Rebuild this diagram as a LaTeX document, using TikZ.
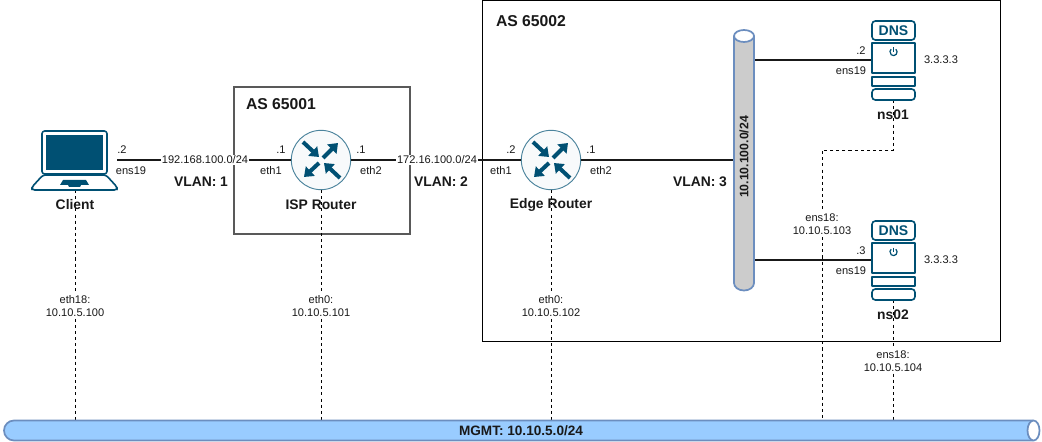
\documentclass[tikz,border=0pt]{standalone}
\usepackage{fontspec}
\setmainfont{Liberation Sans}
\usetikzlibrary{arrows.meta,shapes.geometric,calc}
\definecolor{ic}{HTML}{005073}
\definecolor{busb}{HTML}{6C8EBF}
\definecolor{busg}{HTML}{CCCCCC}
\definecolor{busm}{HTML}{99CCFF}
\definecolor{rfill}{HTML}{F8FAFB}
\tikzset{
 px/.style={inner sep=0pt,outer sep=0pt},
 lab/.style={px,font=\fontsize{8.3}{10.2}\selectfont,text=black!90,align=center},
 labw/.style={lab,fill=white,inner xsep=0.5pt,inner ysep=1pt},
 blab/.style={px,font=\fontsize{10.4}{12}\selectfont\bfseries,text=black!90},
 aslab/.style={px,font=\fontsize{11.8}{14}\selectfont\bfseries,text=black!90},
 wire/.style={draw=black!90,line width=1.5pt},
 mgmt/.style={draw=black,line width=0.7pt,dash pattern=on 2.3pt off 2.3pt},
 routerc/.style={circle,draw=ic!70,line width=0.7pt,fill=rfill,minimum size=44.5pt,inner sep=0pt,outer sep=0pt},
 icline/.style={draw=ic,line width=1.2pt,line join=round},
 rar/.style={draw=ic,line width=3pt,-{Triangle[length=6.5pt,width=9.5pt]}},
}
\newcommand{\routerarrows}[1]{%
 \draw[rar] ($(#1)+(-18,-18)$) -- ($(#1)+(-2,-3)$);
 \draw[rar] ($(#1)+(2,-2)$) -- ($(#1)+(17,-17)$);
 \draw[rar] ($(#1)+(-2,3)$) -- ($(#1)+(-17,17)$);
 \draw[rar] ($(#1)+(19,18)$) -- ($(#1)+(3,3)$);
}
\newcommand{\dnsicon}[2]{%
 \begin{scope}[shift={(872,#2)}]
  \draw[icline,fill=white,rounded corners=2.5pt] (0,19) -- (0,0) -- (43,0) -- (43,19) -- cycle;
  \node[px,text=ic,font=\fontsize{10.5}{12}\selectfont\bfseries] at (21.5,10) {DNS};
  \draw[icline,fill=white] (0,22) rectangle (43,52);
  \draw[icline,fill=white] (0,56) rectangle (43,65);
  \draw[icline,fill=white,rounded corners=2.5pt] (0,68) -- (43,68) -- (43,79) -- (0,79) -- cycle;
  \draw[draw=ic,line width=0.9pt] (21.5,31) ++(310:3.6) arc[start angle=310,end angle=590,radius=3.6];
  \draw[draw=ic,line width=0.9pt] (21.5,26.5) -- (21.5,31);
 \end{scope}
}
\begin{document}
\begin{tikzpicture}[x=0.75pt,y=-0.75pt]
\useasboundingbox (0,0) rectangle (1042,442);
\fill[white] (0,0) rectangle (1042,442);
% AS boxes
\node[px,draw=black!65,line width=1.1pt,fill=white,minimum width=132pt,minimum height=110.25pt,anchor=north west] (as1) at (234,87) {};
\node[px,draw=black,line width=0.75pt,fill=white,minimum width=389pt,minimum height=255pt,anchor=north west] (as2) at (482,1) {};
\node[aslab,anchor=west] (as1l) at (246,104) {AS 65001};
\node[aslab,anchor=west] (as2l) at (496,21) {AS 65002};
% anchors
\coordinate (lapR) at (117,160);
\coordinate (lapB) at (75,190);
\node[routerc] (isp) at (321,160) {};
\node[routerc] (edge) at (551,160) {};
\coordinate (ispB) at (321,190);
\coordinate (edgeB) at (551,190);
\coordinate (mgA) at (75,420);
\coordinate (mgB) at (321,420);
\coordinate (mgC) at (551,420);
\coordinate (mgD) at (822,420);
\coordinate (mgE) at (893.5,420);
\coordinate (busL) at (734,160);
\coordinate (busA) at (754,60);
\coordinate (busB) at (754,260);
\coordinate (ns1W) at (872,60);
\coordinate (ns2W) at (872,260);
\coordinate (ns1B) at (893.5,100);
\coordinate (ns2B) at (893.5,300);
\coordinate (bend1) at (893.5,150);
\coordinate (bend2) at (822,150);
% dashed management
\draw[mgmt] (lapB) -- (mgA);
\draw[mgmt] (ispB) -- (mgB);
\draw[mgmt] (edgeB) -- (mgC);
\draw[mgmt] (ns1B) -- (bend1) -- (bend2) -- (mgD);
\draw[mgmt] (ns2B) -- (mgE);
% wires
\draw[wire] (lapR) -- (isp.west);
\draw[wire] (isp.east) -- (edge.west);
\draw[wire] (edge.east) -- (busL);
\draw[wire] (busA) -- (ns1W);
\draw[wire] (busB) -- (ns2W);
% router icons
\routerarrows{isp}
\routerarrows{edge}
% laptop
\draw[icline,fill=white,rounded corners=2pt] (42,174) -- (42,131) -- (107,131) -- (107,174) -- cycle;
\fill[ic] (46,135) rectangle (103,170);
\draw[icline,fill=white,rounded corners=2pt] (43,175) -- (106,175) -- (117,187) -- (117,190) -- (32,190) -- (32,187) -- cycle;
\fill[ic] (63,180) -- (86,180) -- (89,185) -- (81,185) -- (80,187) -- (69,187) -- (68,185) -- (60,185) -- cycle;
% DNS
\dnsicon{ns1}{21}
\dnsicon{ns2}{221}
% vertical bus
\fill[busg] (734,36) -- (734,283) arc[start angle=180,end angle=0,x radius=10,y radius=7.5] -- (754,36) -- cycle;
\draw[busb,line width=1.3pt] (734,36) -- (734,283) arc[start angle=180,end angle=0,x radius=10,y radius=7.5] -- (754,36);
\draw[busb,line width=1.3pt,fill=white] (744,36) ellipse[x radius=10,y radius=6];
\node[px,rotate=90,font=\fontsize{9.2}{11}\selectfont\bfseries,text=black!90] (busl) at (744,157) {10.10.100.0/24};
% horizontal bus
\fill[busm] (14,420.5) -- (1033,420.5) -- (1033,440.5) -- (14,440.5) arc[start angle=90,end angle=270,x radius=10,y radius=10] -- cycle;
\draw[busb,line width=1.3pt] (1033,420.5) -- (14,420.5) arc[start angle=270,end angle=90,x radius=10,y radius=10] -- (1033,440.5);
\draw[busb,line width=1.3pt,fill=white] (1033.5,430.5) ellipse[x radius=6,y radius=10];
\node[px,font=\fontsize{10.2}{12}\selectfont\bfseries,text=black!90] (mgl) at (521,431) {MGMT: 10.10.5.0/24};
% labels
\node[labw] (n1) at (205,160) {192.168.100.0/24};
\node[labw] (n2) at (437,160) {172.16.100.0/24};
\node[blab] (v1) at (201,182) {VLAN: 1};
\node[blab] (v2) at (441,182) {VLAN: 2};
\node[blab] (v3) at (700,182) {VLAN: 3};
\node[blab] (cl) at (75,205) {Client};
\node[blab] (il) at (321,205) {ISP Router};
\node[blab] (el) at (551,205) {Edge Router};
\node[blab] (ns1l) at (893,115) {ns01};
\node[blab] (ns2l) at (893,315) {ns02};
\node[lab] (a1) at (122,150) {.2};
\node[lab] (a2) at (131,171) {ens19};
\node[lab] (a3) at (281,150) {.1};
\node[lab] (a4) at (271,171) {eth1};
\node[lab] (a5) at (361,150) {.1};
\node[lab] (a6) at (371,171) {eth2};
\node[lab] (a7) at (511,150) {.2};
\node[lab] (a8) at (501,171) {eth1};
\node[lab] (a9) at (591,150) {.1};
\node[lab] (a10) at (601,171) {eth2};
\node[lab] (b1) at (861,51) {.2};
\node[lab] (b2) at (851,71) {ens19};
\node[lab] (b3) at (861,251) {.3};
\node[lab] (b4) at (851,271) {ens19};
\node[lab] (c1) at (941,60) {3.3.3.3};
\node[lab] (c2) at (941,260) {3.3.3.3};
\node[labw] (m1) at (75,306) {eth18:\\10.10.5.100};
\node[labw] (m2) at (321,306) {eth0:\\10.10.5.101};
\node[labw] (m3) at (551,306) {eth0:\\10.10.5.102};
\node[labw] (m4) at (822,224) {ens18:\\10.10.5.103};
\node[labw] (m5) at (893,361) {ens18:\\10.10.5.104};
\end{tikzpicture}
\end{document}
